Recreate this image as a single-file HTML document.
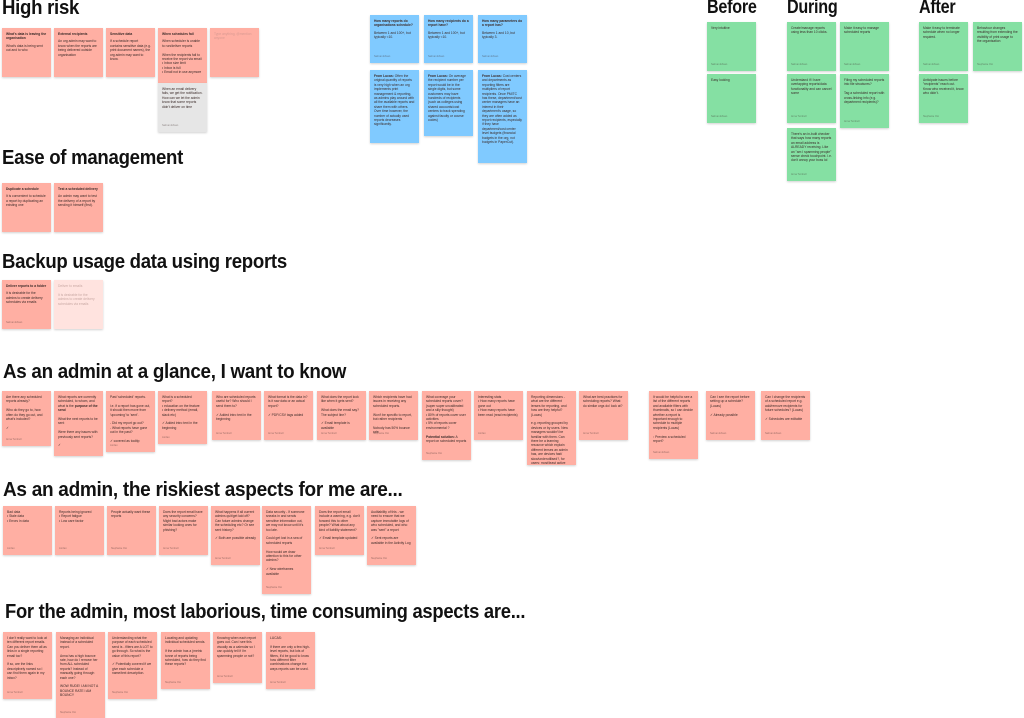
<!DOCTYPE html>
<html><head><meta charset="utf-8"><style>
html,body{margin:0;padding:0;background:#fff;width:1024px;height:718px;overflow:hidden;position:relative;font-family:"Liberation Sans",sans-serif}
.h{position:absolute;font-weight:bold;color:#111;font-size:20px;line-height:22px;white-space:nowrap;transform-origin:0 0;letter-spacing:-0.3px;transform:scaleX(0.93)}
.n{position:absolute;width:49px;box-sizing:border-box;padding:4px 4px;font-size:3.3px;line-height:4.4px;color:#3a2a28;box-shadow:0 1px 2px rgba(0,0,0,.18);overflow:hidden}
.p{background:#ffafa3}.b{background:#80caff}.g{background:#85e0a3}.gr{background:#e6e6e6}.lp{background:#ffe3df;color:#c9a9a4}
.n b{display:block;margin-bottom:3px}
.n i{position:absolute;left:4px;bottom:4px;font-style:normal;opacity:.5;font-size:2.5px}
</style></head><body>

<div class="h" style="left:2px;top:-3px;font-size:20px">High risk</div>
<div class="n p" style="left:2px;top:28px;height:49px"><b>What's data is leaving the organisation</b>What's data is being sent out and to who</div>
<div class="n p" style="left:54px;top:28px;height:49px"><b>External recipients</b>An org admin may want to know when the reports are being delivered outside organisation</div>
<div class="n p" style="left:106px;top:28px;height:49px"><b>Sensitive data</b>If a schedule report contains sensitive data (e.g. print document names), the org admin may want to know.</div>
<div class="n p" style="left:158px;top:28px;height:55px"><b>When schedules fail</b>When scheduler is unable to run/deliver reports<br><br>When the recipients fail to receive the report via email<br>• Inbox size limit<br>• Inbox is full<br>• Email not in use anymore</div>
<div class="n gr" style="left:158px;top:83px;height:49px">When an email delivery fails, we get the notification. How can we let the admin know that some reports didn't deliver on time<i>Salman Ehsan</i></div>
<div class="n p" style="left:210px;top:28px;height:49px;color:#d99a92">Type anything, @mention anyone</div>

<div class="n b" style="left:370px;top:15px;height:48px"><b>How many reports do organisations schedule?</b>Between 1 and 100+, but typically &lt;10.<i>Salman Ehsan</i></div>
<div class="n b" style="left:424px;top:15px;height:48px"><b>How many recipients do a report have?</b>Between 1 and 100+, but typically &lt;10.<i>Salman Ehsan</i></div>
<div class="n b" style="left:478px;top:15px;height:48px"><b>How many parameters do a report has?</b>Between 1 and 10, but typically 3.<i>Salman Ehsan</i></div>
<div class="n b" style="left:370px;top:70px;height:73px"><b style="display:inline">From Lucas:</b> Often the original quantity of reports is very high when an org implements print management &amp; reporting, as admins play around with all the available reports and share them with others. Over time however, the number of actually used reports decreases significantly.</div>
<div class="n b" style="left:424px;top:70px;height:66px"><b style="display:inline">From Lucas:</b> On average the recipient number per report would be in the single digits, but some customers may have hundreds of recipients (such as colleges using shared accounts/cost centers to track spending against faculty or course codes)</div>
<div class="n b" style="left:478px;top:70px;height:93px"><b style="display:inline">From Lucas:</b> Cost centers and departments as reporting filters are multipliers of report recipients. Once PMITC has these, department/cost center managers have an interest in their department's usage, so they are often added as report recipients, especially if they have department/cost center level budgets (financial budgets in the org, not budgets in PaperCut).</div>

<div class="h" style="left:707px;top:-3px;font-size:19px;transform:scaleX(0.85)">Before</div>
<div class="h" style="left:787px;top:-3px;font-size:19px;transform:scaleX(0.85)">During</div>
<div class="h" style="left:919px;top:-3px;font-size:19px;transform:scaleX(0.85)">After</div>
<div class="n g" style="left:707px;top:22px;height:49px">Very intuitive<i>Salman Ehsan</i></div>
<div class="n g" style="left:707px;top:74px;height:49px">Easy looking<i>Salman Ehsan</i></div>
<div class="n g" style="left:787px;top:22px;height:49px">Create/manage reports using less than 10 clicks.<i>Salman Ehsan</i></div>
<div class="n g" style="left:840px;top:22px;height:49px">Make it easy to manage scheduled reports<i>Salman Ehsan</i></div>
<div class="n g" style="left:787px;top:74px;height:49px">Understand if I have overlapping reports/data functionality and can cancel some<i>Anna Turnbull</i></div>
<div class="n g" style="left:840px;top:74px;height:54px">Filing my scheduled reports into file structures?<br><br>Tag a scheduled report with cross-linking info (e.g. department recipients)?<i>Anna Turnbull</i></div>
<div class="n g" style="left:787px;top:128px;height:53px">There's an in-built checker that says how many reports an email address is ALREADY receiving. Like an "am I spamming people" sense check touchpoint. I.e. don't annoy your boss lol<i>Anna Turnbull</i></div>
<div class="n g" style="left:919px;top:22px;height:49px">Make it easy to terminate schedule when no longer required.<i>Salman Ehsan</i></div>
<div class="n g" style="left:973px;top:22px;height:49px">Behaviour changes resulting from extending the visibility of print usage to the organisation<i>Stephanie Ooi</i></div>
<div class="n g" style="left:919px;top:74px;height:49px">Anticipate issues before "recipients" reach out. Know who received it, know who didn't.<i>Stephanie Ooi</i></div>

<div class="h" style="left:2px;top:147px;font-size:20px">Ease of management</div>
<div class="n p" style="left:2px;top:183px;height:49px"><b>Duplicate a schedule</b>It is convenient to schedule a report by duplicating an existing one</div>
<div class="n p" style="left:54px;top:183px;height:49px"><b>Test a scheduled delivery</b>An admin may want to test the delivery of a report by sending it himself (first).</div>

<div class="h" style="left:2px;top:251px;font-size:20px">Backup usage data using reports</div>
<div class="n p" style="left:2px;top:280px;height:49px"><b>Deliver reports to a folder</b>It is desirable for the admins to create delivery schedules via emails<i>Salman Ehsan</i></div>
<div class="n lp" style="left:54px;top:280px;height:49px">Deliver to emails<br><br>It is desirable for the admins to create delivery schedules via emails</div>

<div class="h" style="left:3px;top:361px;font-size:20px;transform:scaleX(0.94)">As an admin at a glance, I want to know</div>
<div class="n p" style="left:2px;top:391px;height:55px">Are there any scheduled reports already?<br><br>Who do they go to, how often do they go out, and what's included?<br><br>✓<i>Anna Turnbull</i></div>
<div class="n p" style="left:54px;top:391px;height:65px">What reports are currently scheduled, to whom, and what is the <b style="display:inline">purpose of the send</b><br><br>What the next reports to be sent<br><br>Were there any issues with previously sent reports?<br><br>✓</div>
<div class="n p" style="left:106px;top:391px;height:61px">Past 'scheduled' reports.<br><br>i.e. if a report has gone out, it should then move from 'upcoming' to 'sent'.<br><br>- Did my report go out?<br>- What reports have gone out in the past?<br><br>✓ covered as tooltip<i>Jordan</i></div>
<div class="n p" style="left:158px;top:391px;height:53px">What is a scheduled report?<br>• education on the feature<br>• delivery method (email, slack etc)<br><br>✓ Added intro text in the beginning<i>Jordan</i></div>
<div class="n p" style="left:212px;top:391px;height:49px">Who are scheduled reports useful for? Who should I send them to?<br><br>✓ Added intro text in the beginning<i>Anna Turnbull</i></div>
<div class="n p" style="left:264px;top:391px;height:49px">What format is the data in? Is it raw data or an actual report?<br><br>✓ PDF/CSV tags added<i>Anna Turnbull</i></div>
<div class="n p" style="left:317px;top:391px;height:49px">What does the report look like when it gets sent?<br><br>What does the email say? The subject line?<br><br>✓ Email template is available<i>Anna Turnbull</i></div>
<div class="n p" style="left:369px;top:391px;height:49px">Which recipients have had issues in receiving any scheduled reports.<br><br>Won't be specific to report, but rather recipients<br><br>Nobody has 50% bounce rate<i>Stephanie Ooi</i></div>
<div class="n p" style="left:422px;top:391px;height:69px">What coverage your scheduled reports cover? (super super uncalibrated and a silly thought)<br>• 80% of reports cover user activities<br>• 5% of reports cover environmental ?<br><br><b style="display:inline">Potential solution:</b> A report on scheduled reports<i>Stephanie Ooi</i></div>
<div class="n p" style="left:474px;top:391px;height:49px">Interesting stats<br>• How many reports have gone out<br>• How many reports have been read (read recipients)<i>Jordan</i></div>
<div class="n p" style="left:527px;top:391px;height:74px">Reporting dimensions - what are the different lenses for reporting, and how are they helpful? (Lucas)<br><br>e.g. reporting grouped by devices or by users. New managers wouldn't be familiar with them. Can there be a learning resource which explain different lenses an admin has, are devices fast/ slow/underutilised?, for users: most/least active users.</div>
<div class="n p" style="left:579px;top:391px;height:49px">What are best practices for scheduling reports? What do similar orgs do/ look at?<i>Anna Turnbull</i></div>
<div class="n p" style="left:649px;top:391px;height:68px">It would be helpful to see a list of the different reports and available filters with thumbnails, so I can decide whether a report is important enough to schedule to multiple recipients (Lucas)<br><br>▫ Preview a scheduled report?<i>Salman Ehsan</i></div>
<div class="n p" style="left:706px;top:391px;height:49px">Can I see the report before setting up a schedule? (Lucas)<br><br>✓ Already possible<i>Salman Ehsan</i></div>
<div class="n p" style="left:761px;top:391px;height:49px">Can I change the recipients of a scheduled report e.g. add/remove recipients for future schedules? (Lucas)<br><br>✓ Schedules are editable<i>Salman Ehsan</i></div>

<div class="h" style="left:3px;top:479px;font-size:20px;transform:scaleX(0.95)">As an admin, the riskiest aspects for me are...</div>
<div class="n p" style="left:3px;top:506px;height:49px">Bad data<br>• Stale data<br>• Errors in data<i>Jordan</i></div>
<div class="n p" style="left:55px;top:506px;height:49px">Reports being ignored<br>• Report fatigue<br>• Low care factor<i>Jordan</i></div>
<div class="n p" style="left:107px;top:506px;height:49px">People actually want these reports<i>Stephanie Ooi</i></div>
<div class="n p" style="left:159px;top:506px;height:49px">Does the report email have any security concerns? Might bad actors make similar looking ones for phishing?<i>Anna Turnbull</i></div>
<div class="n p" style="left:211px;top:506px;height:59px">What happens if all current admins quit/get laid off? Can future admins change the scheduling etc? Or see sent history?<br><br>✓ Both are possible already<i>Anna Turnbull</i></div>
<div class="n p" style="left:262px;top:506px;height:88px">Data security - If someone sneaks in and sends sensitive information out, we may not know until it's too late.<br><br>Could get lost in a sea of scheduled reports<br><br>How would we draw attention to this for other admins?<br><br>✓ New wireframes available<i>Stephanie Ooi</i></div>
<div class="n p" style="left:315px;top:506px;height:49px">Does the report email include a warning, e.g. don't forward this to other people? What about any kind of liability statement?<br><br>✓ Email template updated<i>Anna Turnbull</i></div>
<div class="n p" style="left:367px;top:506px;height:59px">Auditability of this - we need to ensure that we capture immutable logs of who scheduled, and who was "sent" a report<br><br>✓ Sent reports are available in the Activity Log<i>Stephanie Ooi</i></div>

<div class="h" style="left:5px;top:601px;font-size:20px;transform:scaleX(0.92)">For the admin, most laborious, time consuming aspects are...</div>
<div class="n p" style="left:3px;top:632px;height:67px">I don't really want to look at ten different report emails. Can you deliver them all as links in a single reporting email too?<br><br>If so, are the links descriptively named so I can find them again in my inbox?<i>Anna Turnbull</i></div>
<div class="n p" style="left:56px;top:632px;height:87px">Managing an individual instead of a scheduled report.<br><br>Anna has a high bounce rate, how do I remove her from ALL scheduled reports? Instead of manually going through each one?<br><br>WOW RUDE! I AM NOT A BOUNCE RATE I AM BOUNCY<i>Stephanie Ooi</i></div>
<div class="n p" style="left:108px;top:632px;height:67px">Understanding what the purpose of each scheduled send is - filters are A LOT to go through. So what is the value of this report?<br><br>✓ Potentially covered if we give each schedule a name/text description.<i>Stephanie Ooi</i></div>
<div class="n p" style="left:161px;top:632px;height:57px">Locating and updating individual scheduled sends.<br><br>If the admin has a (metric tonne of reports being scheduled, how do they find these reports?<i>Stephanie Ooi</i></div>
<div class="n p" style="left:213px;top:632px;height:51px">Knowing when each report goes out. Can I see this visually as a calendar so I can quickly tell if I'm spamming people or not?<i>Anna Turnbull</i></div>
<div class="n p" style="left:266px;top:632px;height:57px">LUCAS:<br><br>If there are only a few high-level reports, but lots of filters, it'd be good to know how different filter combinations change the ways reports can be used.<i>Anna Turnbull</i></div>
</body></html>
